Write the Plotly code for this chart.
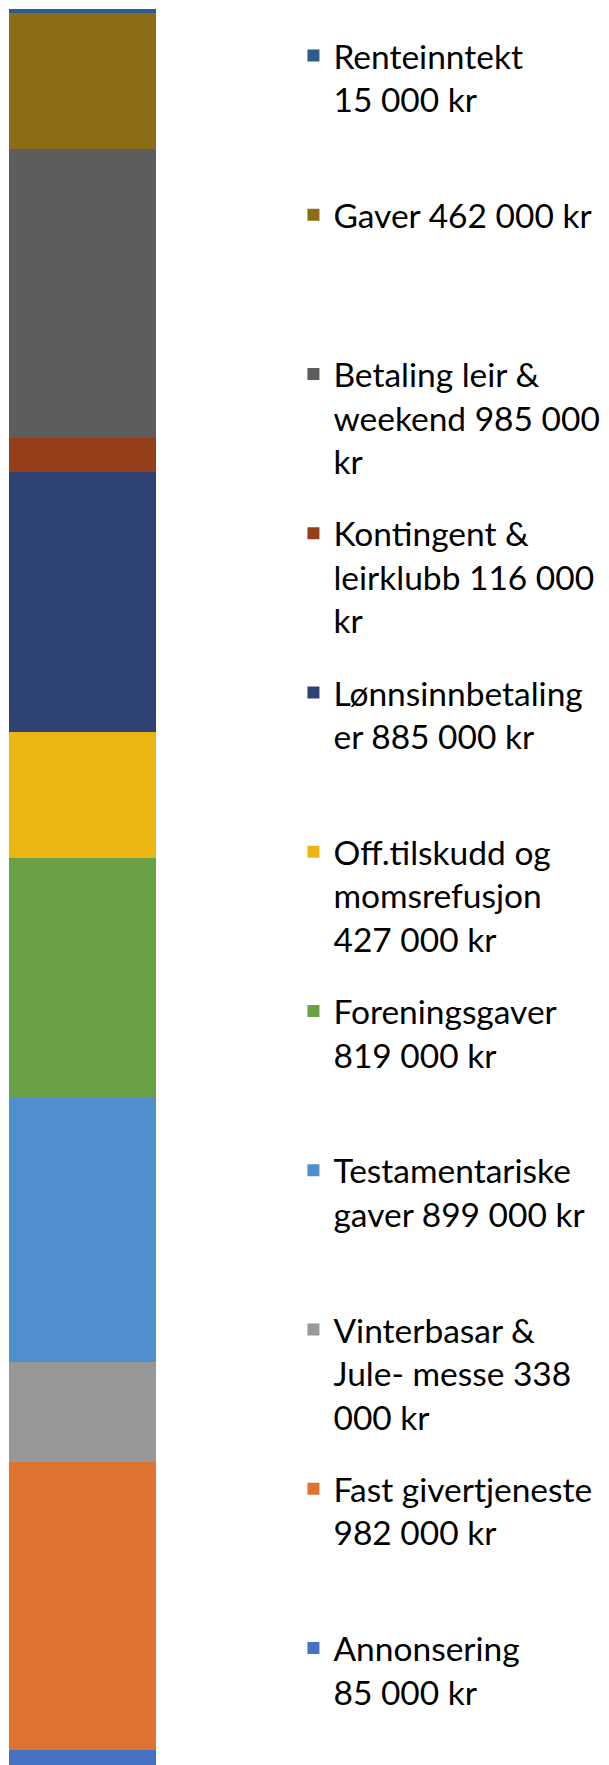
import plotly.graph_objects as go

# inntekter, nederst i søylen først
kategorier = ["Annonsering", "Fast givertjeneste", "Vinterbasar & Jule- messe",
              "Testamentariske gaver", "Foreningsgaver", "Off.tilskudd og momsrefusjon",
              "Lønnsinnbetalinger", "Kontingent & leirklubb", "Betaling leir & weekend",
              "Gaver", "Renteinntekt"]
belop = [85000, 982000, 338000, 899000, 819000, 427000, 885000, 116000, 985000, 462000, 15000]
etiketter = [
    "Annonsering<br>85 000 kr",
    "Fast givertjeneste<br>982 000 kr",
    "Vinterbasar &<br>Jule- messe 338<br>000 kr",
    "Testamentariske<br>gaver 899 000 kr",
    "Foreningsgaver<br>819 000 kr",
    "Off.tilskudd og<br>momsrefusjon<br>427 000 kr",
    "Lønnsinnbetaling<br>er 885 000 kr",
    "Kontingent &<br>leirklubb 116 000<br>kr",
    "Betaling leir &<br>weekend 985 000<br>kr",
    "Gaver 462 000 kr",
    "Renteinntekt<br>15 000 kr",
]
farger = ["#4672C4", "#DE7230", "#989898", "#4F8FCE", "#6AA146", "#EDB510",
          "#2E4372", "#953F1A", "#5D5D5D", "#8E6C16", "#2D5B8B"]

fig = go.Figure()
n = len(kategorier)
for i in range(n):
    # fyll opp til tre linjer så alle oppføringene får lik høyde
    navn = etiketter[i] + "<br>\u00a0" * (3 - etiketter[i].count("<br>") - 1)
    fig.add_trace(go.Bar(
        x=["Inntekter"], y=[belop[i]], name=navn, width=1,
        marker=dict(color=farger[i], line=dict(width=0)),
        legendgroup=kategorier[i], legendrank=n - i, hoverinfo="name+y"))

fig.update_layout(
    barmode="stack",
    width=609, height=1765,
    margin=dict(l=1, r=461, t=1, b=0, autoexpand=False),
    paper_bgcolor="white", plot_bgcolor="white",
    font=dict(family="Lato", size=33.5, color="black"),
    xaxis=dict(visible=False, range=[-0.5, 0.5]),
    yaxis=dict(visible=False, range=[7000, sum(belop)]),
    legend=dict(x=1.935, y=0.9897, xanchor="left", yanchor="top",
                traceorder="grouped", tracegroupgap=25.6,
                valign="top", bgcolor="rgba(0,0,0,0)",
                font=dict(family="Lato", size=33.5, color="black")),
)

fig.write_html("out.html")
